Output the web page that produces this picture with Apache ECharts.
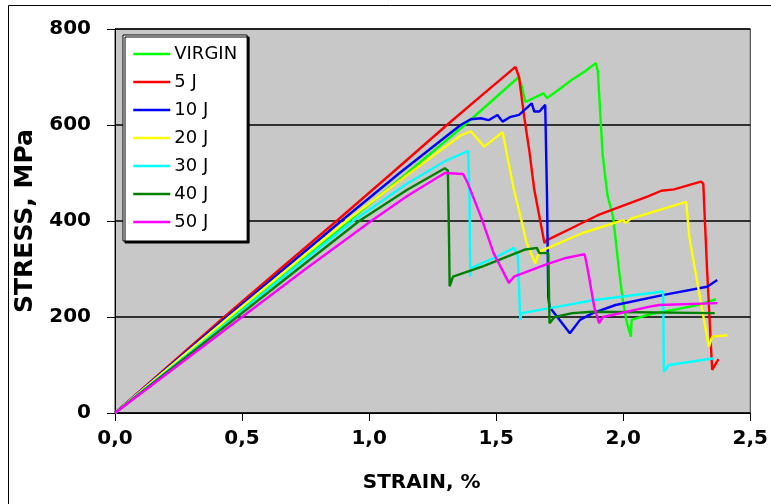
<!DOCTYPE html>
<html>
<head>
<meta charset="utf-8">
<script src="https://cdn.jsdelivr.net/npm/echarts@6/dist/echarts.min.js"></script>
<style>
html,body{margin:0;padding:0;background:#fff;}
#chart{width:771px;height:504px;}
</style>
</head>
<body>
<div id="chart"></div>
<script>
// Series names
const seriesNames = ['VIRGIN', '5 J', '10 J', '20 J', '30 J', '40 J', '50 J'];
const seriesColors = ['#00FF00', '#FF0000', '#0000FF', '#FFFF00', '#00FFFF', '#008000', '#FF00FF'];

// Tick labels
const xTickLabels = ['0,0', '0,5', '1,0', '1,5', '2,0', '2,5'];
const yTickLabels = ['0', '200', '400', '600', '800'];

// [strain %, stress MPa]
const virgin = [[0,0],[0.23,100],[0.46,200],[0.69,300],[0.92,400],[1.15,500],[1.376,600],[1.589,700],[1.60,682],[1.615,648],[1.686,666],[1.70,656],[1.75,675],[1.80,695],[1.85,712],[1.892,729],[1.90,712],[1.919,538],[1.938,454],[1.96,409],[1.985,291],[2.0,229],[2.015,187],[2.03,159],[2.033,194],[2.10,205],[2.20,215],[2.30,226],[2.364,237]];
const j5 = [[0,0],[0.215,100],[0.43,200],[0.65,300],[0.872,400],[1.09,500],[1.306,600],[1.45,665],[1.576,721],[1.59,700],[1.61,618],[1.63,548],[1.65,465],[1.675,396],[1.69,354],[1.70,360],[1.80,386],[1.90,412],[2.00,432],[2.10,452],[2.15,463],[2.20,466],[2.306,482],[2.315,478],[2.33,298],[2.35,90],[2.375,112]];
const j10 = [[0,0],[0.22,100],[0.44,200],[0.665,300],[0.89,400],[1.12,500],[1.36,600],[1.40,612],[1.44,614],[1.47,610],[1.505,621],[1.525,607],[1.557,617],[1.59,621],[1.64,645],[1.65,628],[1.67,628],[1.693,642],[1.697,531],[1.70,454],[1.705,242],[1.71,221],[1.79,166],[1.83,194],[1.88,208],[1.97,225],[2.16,246],[2.33,263],[2.37,277]];
const j20 = [[0,0],[0.225,100],[0.45,200],[0.68,300],[0.91,400],[1.14,492],[1.363,579],[1.40,587],[1.453,555],[1.525,585],[1.535,560],[1.544,534],[1.57,465],[1.596,409],[1.62,354],[1.654,312],[1.67,336],[1.84,375],[2.0,402],[2.01,396],[2.03,405],[2.248,440],[2.26,367],[2.306,229],[2.337,138],[2.35,159],[2.41,162]];
const j30 = [[0,0],[0.235,100],[0.47,200],[0.70,300],[0.937,400],[1.15,478],[1.30,525],[1.39,546],[1.395,450],[1.398,284],[1.40,302],[1.50,325],[1.57,344],[1.585,329],[1.595,194],[1.60,208],[1.75,222],[1.88,235],[2.157,253],[2.16,86],[2.18,100],[2.357,114]];
const j40 = [[0,0],[0.24,100],[0.48,200],[0.72,300],[0.961,400],[1.15,465],[1.298,510],[1.31,505],[1.314,380],[1.317,264],[1.33,284],[1.45,306],[1.61,340],[1.66,344],[1.67,333],[1.705,333],[1.71,187],[1.73,200],[1.80,208],[1.88,211],[2.36,208]];
const j50 = [[0,0],[0.25,100],[0.5,200],[0.75,300],[1.008,400],[1.15,452],[1.298,500],[1.37,498],[1.388,479],[1.44,409],[1.49,333],[1.55,271],[1.57,284],[1.70,310],[1.775,323],[1.848,331],[1.86,300],[1.886,221],[1.905,187],[1.92,200],[2.10,221],[2.14,225],[2.37,229]];

const allData = [virgin, j5, j10, j20, j30, j40, j50];

const chart = echarts.init(document.getElementById('chart'), null, {renderer: 'canvas'});
const font = 'DejaVu Sans';

const option = {
  animation: false,
  backgroundColor: '#ffffff',
  graphic: [{
    type: 'rect',
    shape: {x: 8.5, y: 5.5, width: 780, height: 520},
    style: {fill: 'none', stroke: '#000', lineWidth: 1},
    silent: true,
    z: -10
  }],
  grid: {
    left: 115, top: 29, right: 11, bottom: 91,
    show: true, backgroundColor: '#C8C8C8', borderColor: '#333', borderWidth: 1
  },
  legend: {
    orient: 'vertical',
    left: 123, top: 35,
    data: seriesNames,
    backgroundColor: '#fff',
    borderColor: '#000', borderWidth: 1,
    shadowColor: '#000', shadowOffsetX: 2, shadowOffsetY: 2, shadowBlur: 0,
    padding: [10, 10, 10, 9],
    itemWidth: 37, itemHeight: 14, itemGap: 10,
    itemStyle: {opacity: 0},
    lineStyle: {width: 2.5},
    textStyle: {fontFamily: font, fontSize: 18, color: '#000', padding: [0,0,0,-1]}
  },
  xAxis: {
    type: 'value', min: 0, max: 2.5, interval: 0.5,
    name: 'STRAIN, %', nameLocation: 'middle', nameGap: 60,
    nameTextStyle: {fontFamily: font, fontWeight: 'bold', fontSize: 20, color: '#000', padding: [0, 22, 0, 0]},
    axisLine: {show: true, lineStyle: {color: '#000', width: 1}},
    axisTick: {show: true, length: 8, lineStyle: {color: '#000'}},
    axisLabel: {
      margin: 16, fontFamily: font, fontWeight: 'bold', fontSize: 20, color: '#000',
      formatter: function (v) { return xTickLabels[Math.round(v / 0.5)]; }
    },
    splitLine: {show: false}
  },
  yAxis: {
    type: 'value', min: 0, max: 800, interval: 200,
    name: 'STRESS, MPa', nameLocation: 'middle', nameGap: 67, nameRotate: 90,
    nameTextStyle: {fontFamily: font, fontWeight: 'bold', fontSize: 25, color: '#000'},
    axisLine: {show: true, lineStyle: {color: '#000', width: 1}},
    axisTick: {show: true, length: 8, lineStyle: {color: '#000'}},
    axisLabel: {
      margin: 24, fontFamily: font, fontWeight: 'bold', fontSize: 20, color: '#000',
      formatter: function (v) { return yTickLabels[Math.round(v / 200)]; }
    },
    splitLine: {show: true, lineStyle: {color: '#000', width: 1.5}}
  },
  series: seriesNames.map(function (name, i) {
    return {
      name: name, type: 'line', data: allData[i],
      symbol: 'none', showSymbol: false,
      lineStyle: {color: seriesColors[i], width: 2.4},
      itemStyle: {color: seriesColors[i]},
      z: 3
    };
  })
};
chart.setOption(option);
</script>
</body>
</html>
